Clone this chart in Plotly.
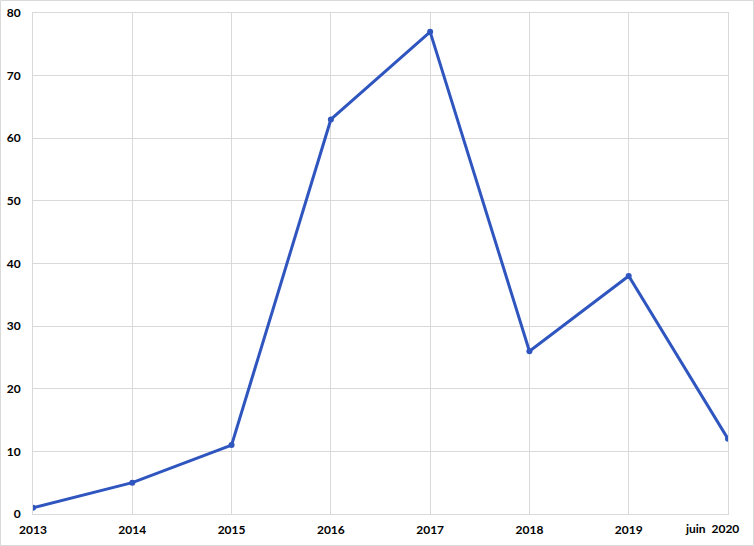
import plotly.graph_objects as go

categories = ["2013", "2014", "2015", "2016", "2017", "2018", "2019", "juin 2020"]
values = [1, 5, 11, 63, 77, 26, 38, 12]
y_ticks = [0, 10, 20, 30, 40, 50, 60, 70, 80]

W, H = 754, 546
L, R, T, B = 33, 26, 13, 32
pw, ph = W - L - R, H - T - B

grid = "#d9d9d9"
font = dict(family="Lato, Calibri, Arial", size=12, color="#000000")

fig = go.Figure()
fig.add_trace(go.Scatter(
    x=list(range(len(categories))), y=values, mode="lines+markers",
    line=dict(color="#2f55bf", width=3),
    marker=dict(color="#2f55bf", size=6),
    hoverinfo="skip", showlegend=False,
))

fig.update_layout(
    width=W, height=H,
    margin=dict(l=L, r=R, t=T, b=B, autoexpand=False),
    paper_bgcolor="white", plot_bgcolor="white",
    font=font,
    xaxis=dict(
        range=[0, len(categories) - 1],
        tickmode="array",
        tickvals=list(range(len(categories) - 1)),
        ticktext=["<b>%s</b>" % c for c in categories[:-1]],
        showgrid=True, gridcolor=grid, gridwidth=1,
        showline=True, linecolor=grid, linewidth=1, mirror=True,
        zeroline=False, ticks="outside", ticklen=5, tickcolor="rgba(0,0,0,0)",
        tickfont=font, automargin=False,
        fixedrange=True,
    ),
    yaxis=dict(
        range=[0, 80],
        tickmode="array",
        tickvals=y_ticks,
        ticktext=["<b>%d</b>" % v for v in y_ticks],
        showgrid=True, gridcolor=grid, gridwidth=1,
        showline=True, linecolor=grid, linewidth=1, mirror=True,
        zeroline=False, ticks="outside", ticklen=9, tickcolor="rgba(0,0,0,0)",
        tickfont=font, automargin=False,
        fixedrange=True,
    ),
)

# last category label, kept inside the chart like the original
fig.add_annotation(
    x=1, y=0, xref="paper", yref="paper",
    text="<b>%s</b>" % categories[-1].replace(" ", "&nbsp;&nbsp;"),
    showarrow=False, xanchor="right", yanchor="top",
    xshift=13, yshift=-5, font=font,
)

# outer chart border
fig.add_shape(
    type="rect", xref="paper", yref="paper",
    x0=(-L + 0.5) / pw, x1=(pw + R - 0.5) / pw,
    y0=(-B + 0.5) / ph, y1=(ph + T - 0.5) / ph,
    line=dict(color="#d9d9d9", width=1), fillcolor="rgba(0,0,0,0)",
    layer="below",
)

fig.write_html("out.html", config={"displayModeBar": False})

with open("out.html", encoding="utf-8") as f:
    html = f.read()
html = html.replace("<head>", "<head><style>html,body{margin:0;padding:0;overflow:hidden}</style>", 1)
with open("out.html", "w", encoding="utf-8") as f:
    f.write(html)
